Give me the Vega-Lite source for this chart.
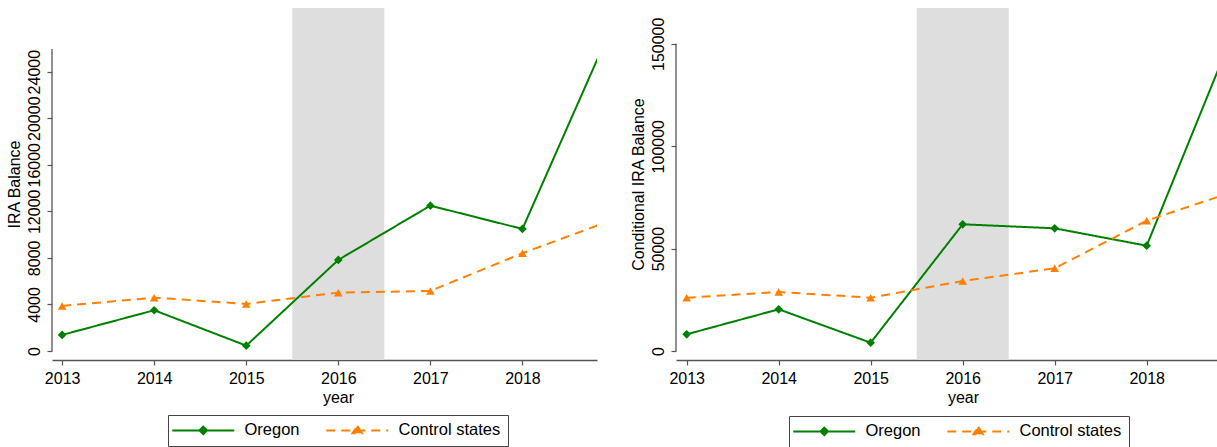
{
  "$schema": "https://vega.github.io/schema/vega-lite/v6.json",
  "padding": {"left": 6, "top": 8, "right": 0, "bottom": 0},
  "autosize": {"type": "pad"},
  "background": "white",
  "config": {
    "font": "Liberation Sans",
    "view": {"stroke": null},
    "axis": {
      "labelFont": "Liberation Sans", "labelFontSize": 16, "labelColor": "#000",
      "titleFont": "Liberation Sans", "titleFontSize": 16, "titleFontWeight": "normal", "titleColor": "#000",
      "domainColor": "#555", "tickColor": "#555", "tickSize": 5, "domainWidth": 1.3, "tickWidth": 1.2, "grid": false
    },
    "legend": {
      "labelFont": "Liberation Sans", "labelFontSize": 16.5, "labelColor": "#000",
      "strokeColor": "#444", "padding": 7, "direction": "horizontal", "columns": 2,
      "columnPadding": 22, "labelOffset": 33, "symbolOffset": 20, "symbolStrokeWidth": 2, "symbolSize": 100
    }
  },
  "datasets": {
    "left": [
      {"year": 2013, "series": "Oregon", "value": 1375},
      {"year": 2014, "series": "Oregon", "value": 3497},
      {"year": 2015, "series": "Oregon", "value": 455},
      {"year": 2016, "series": "Oregon", "value": 7820},
      {"year": 2017, "series": "Oregon", "value": 12486},
      {"year": 2018, "series": "Oregon", "value": 10483},
      {"year": 2019, "series": "Oregon", "value": 28400},
      {"year": 2013, "series": "Control states", "value": 3867},
      {"year": 2014, "series": "Control states", "value": 4580},
      {"year": 2015, "series": "Control states", "value": 4039},
      {"year": 2016, "series": "Control states", "value": 5010},
      {"year": 2017, "series": "Control states", "value": 5156},
      {"year": 2018, "series": "Control states", "value": 8395},
      {"year": 2019, "series": "Control states", "value": 11320}
    ],
    "right": [
      {"year": 2013, "series": "Oregon", "value": 8150},
      {"year": 2014, "series": "Oregon", "value": 20360},
      {"year": 2015, "series": "Oregon", "value": 4050},
      {"year": 2016, "series": "Oregon", "value": 61870},
      {"year": 2017, "series": "Oregon", "value": 59910},
      {"year": 2018, "series": "Oregon", "value": 51420},
      {"year": 2019, "series": "Oregon", "value": 162000},
      {"year": 2013, "series": "Control states", "value": 26030},
      {"year": 2014, "series": "Control states", "value": 28810},
      {"year": 2015, "series": "Control states", "value": 26030},
      {"year": 2016, "series": "Control states", "value": 34180},
      {"year": 2017, "series": "Control states", "value": 40380},
      {"year": 2018, "series": "Control states", "value": 63620},
      {"year": 2019, "series": "Control states", "value": 78650}
    ],
    "shade": [{"start": 2015.5, "end": 2016.5}],
    "axisL": [{"y0": 0, "y1": 25950}],
    "axisR": [{"y0": 0, "y1": 150000}]
  },
  "spacing": 33,
  "resolve": {
    "scale": {"color": "independent", "strokeDash": "independent", "shape": "independent", "fill": "independent", "stroke": "independent"},
    "legend": {"color": "independent", "strokeDash": "independent", "shape": "independent", "fill": "independent", "stroke": "independent"}
  },
  "hconcat": [
    {
      "width": 545, "height": 352,
      "resolve": {"scale": {"shape": "independent", "strokeDash": "independent", "fill": "independent", "stroke": "independent"}},
      "layer": [
        {
          "data": {"name": "shade"},
          "mark": {"type": "rect", "color": "#dedede"},
          "encoding": {
            "x": {"field": "start", "type": "quantitative",
              "scale": {"domain": [2012.89, 2018.81], "nice": false, "zero": false},
              "axis": {"values": [2013, 2014, 2015, 2016, 2017, 2018], "format": "d", "title": "year", "titleX": 286, "labelPadding": 5, "titlePadding": 3, "labelFlush": false}},
            "x2": {"field": "end"}
          }
        },
        {
          "data": {"name": "axisL"},
          "mark": {"type": "rule", "color": "#555", "strokeWidth": 1.3},
          "encoding": {
            "x": {"datum": 2012.89, "type": "quantitative"},
            "y": {"field": "y0", "type": "quantitative",
              "scale": {"domain": [-780, 29470], "nice": false, "zero": false},
              "axis": {"values": [0, 4000, 8000, 12000, 16000, 20000, 24000], "format": "d", "title": "IRA Balance", "labelAngle": -90, "labelAlign": "center", "labelBaseline": "alphabetic", "labelPadding": 8, "labelOverlap": false, "domain": false, "titlePadding": 4}},
            "y2": {"field": "y1"}
          }
        },
        {
          "data": {"name": "left"},
          "mark": {"type": "line", "clip": true, "strokeWidth": 2},
          "encoding": {
            "x": {"field": "year", "type": "quantitative"},
            "y": {"field": "value", "type": "quantitative"},
            "color": {"field": "series", "type": "nominal", "scale": {"domain": ["Oregon", "Control states"], "range": ["#008000", "#ff8000"]}, "legend": null},
            "strokeDash": {"field": "series", "type": "nominal", "scale": {"domain": ["Oregon", "Control states"], "range": [[1, 0], [9, 6]]}, "legend": null}
          }
        },
        {
          "data": {"name": "left"},
          "mark": {"type": "point", "clip": true, "filled": true, "opacity": 1, "size": 75},
          "encoding": {
            "x": {"field": "year", "type": "quantitative"},
            "y": {"field": "value", "type": "quantitative"},
            "color": {"field": "series", "type": "nominal", "legend": null},
            "shape": {"field": "series", "type": "nominal", "scale": {"domain": ["Oregon", "Control states"], "range": ["diamond", "triangle-up"]}, "legend": null}
          }
        },
        {
          "data": {"name": "left"},
          "transform": [{"filter": "false"}],
          "mark": {"type": "point", "filled": true, "opacity": 1},
          "encoding": {
            "x": {"field": "year", "type": "quantitative"},
            "y": {"field": "value", "type": "quantitative"},
            "fill": {"field": "series", "type": "nominal", "scale": {"domain": ["Oregon", "Control states"], "range": ["#008000", "#ff8000"]},
              "legend": {"title": null, "orient": "none", "legendX": 116, "legendY": 407}},
            "stroke": {"field": "series", "type": "nominal", "scale": {"domain": ["Oregon", "Control states"], "range": ["#008000", "#ff8000"]},
              "legend": {"title": null, "orient": "none", "legendX": 116, "legendY": 407}},
            "strokeDash": {"field": "series", "type": "nominal", "scale": {"domain": ["Oregon", "Control states"], "range": [[1, 0], [9, 6]]},
              "legend": {"title": null, "orient": "none", "legendX": 116, "legendY": 407}},
            "shape": {"field": "series", "type": "nominal",
              "scale": {"domain": ["Oregon", "Control states"], "range": ["M-6.2,0H6.2M0,-0.75L0.75,0L0,0.75L-0.75,0Z", "M-6.2,0H6.2M0,-0.9L0.95,0.55L-0.95,0.55Z"]},
              "legend": {"title": null, "orient": "none", "legendX": 116, "legendY": 407}}
          }
        }
      ]
    },
    {
      "width": 542, "height": 352,
      "resolve": {"scale": {"shape": "independent", "strokeDash": "independent", "fill": "independent", "stroke": "independent"}},
      "layer": [
        {
          "data": {"name": "shade"},
          "mark": {"type": "rect", "color": "#dedede"},
          "encoding": {
            "x": {"field": "start", "type": "quantitative",
              "scale": {"domain": [2012.884, 2018.775], "nice": false, "zero": false},
              "axis": {"values": [2013, 2014, 2015, 2016, 2017, 2018], "format": "d", "title": "year", "titleX": 287, "labelPadding": 5, "titlePadding": 3, "labelFlush": false}},
            "x2": {"field": "end"}
          }
        },
        {
          "data": {"name": "axisR"},
          "mark": {"type": "rule", "color": "#555", "strokeWidth": 1.3},
          "encoding": {
            "x": {"datum": 2012.884, "type": "quantitative"},
            "y": {"field": "y0", "type": "quantitative",
              "scale": {"domain": [-4400, 167500], "nice": false, "zero": false},
              "axis": {"values": [0, 50000, 100000, 150000], "format": "d", "title": "Conditional IRA Balance", "labelAngle": -90, "labelAlign": "center", "labelBaseline": "alphabetic", "labelPadding": 8, "labelOverlap": false, "domain": false, "titlePadding": 4}},
            "y2": {"field": "y1"}
          }
        },
        {
          "data": {"name": "right"},
          "mark": {"type": "line", "clip": true, "strokeWidth": 2},
          "encoding": {
            "x": {"field": "year", "type": "quantitative"},
            "y": {"field": "value", "type": "quantitative"},
            "color": {"field": "series", "type": "nominal", "scale": {"domain": ["Oregon", "Control states"], "range": ["#008000", "#ff8000"]}, "legend": null},
            "strokeDash": {"field": "series", "type": "nominal", "scale": {"domain": ["Oregon", "Control states"], "range": [[1, 0], [9, 6]]}, "legend": null}
          }
        },
        {
          "data": {"name": "right"},
          "mark": {"type": "point", "clip": true, "filled": true, "opacity": 1, "size": 75},
          "encoding": {
            "x": {"field": "year", "type": "quantitative"},
            "y": {"field": "value", "type": "quantitative"},
            "color": {"field": "series", "type": "nominal", "legend": null},
            "shape": {"field": "series", "type": "nominal", "scale": {"domain": ["Oregon", "Control states"], "range": ["diamond", "triangle-up"]}, "legend": null}
          }
        },
        {
          "data": {"name": "right"},
          "transform": [{"filter": "false"}],
          "mark": {"type": "point", "filled": true, "opacity": 1},
          "encoding": {
            "x": {"field": "year", "type": "quantitative"},
            "y": {"field": "value", "type": "quantitative"},
            "fill": {"field": "series", "type": "nominal", "scale": {"domain": ["Oregon", "Control states"], "range": ["#008000", "#ff8000"]},
              "legend": {"title": null, "orient": "none", "legendX": 113, "legendY": 408}},
            "stroke": {"field": "series", "type": "nominal", "scale": {"domain": ["Oregon", "Control states"], "range": ["#008000", "#ff8000"]},
              "legend": {"title": null, "orient": "none", "legendX": 113, "legendY": 408}},
            "strokeDash": {"field": "series", "type": "nominal", "scale": {"domain": ["Oregon", "Control states"], "range": [[1, 0], [9, 6]]},
              "legend": {"title": null, "orient": "none", "legendX": 113, "legendY": 408}},
            "shape": {"field": "series", "type": "nominal",
              "scale": {"domain": ["Oregon", "Control states"], "range": ["M-6.2,0H6.2M0,-0.75L0.75,0L0,0.75L-0.75,0Z", "M-6.2,0H6.2M0,-0.9L0.95,0.55L-0.95,0.55Z"]},
              "legend": {"title": null, "orient": "none", "legendX": 113, "legendY": 408}}
          }
        }
      ]
    }
  ]
}
